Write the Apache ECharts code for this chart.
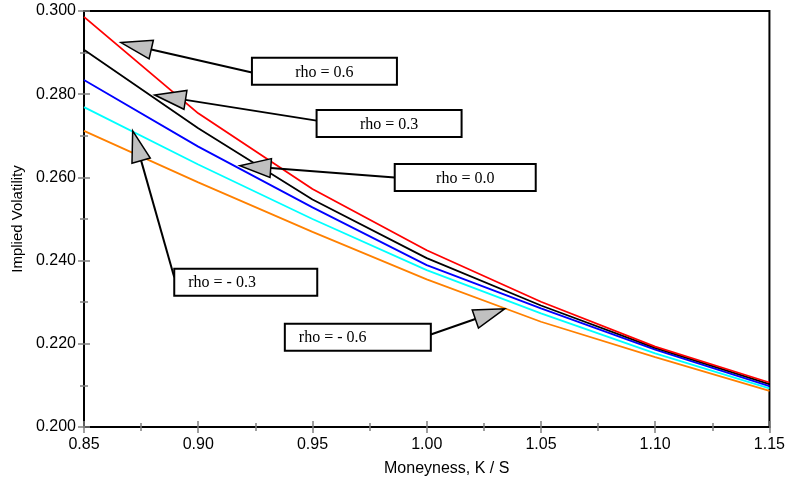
<!DOCTYPE html>
<html>
<head>
<meta charset="utf-8">
<script src="https://cdn.jsdelivr.net/npm/echarts@6/dist/echarts.min.js"></script>
<style>
html,body{margin:0;padding:0;background:#fff;}
#chart{width:788px;height:486px;}
</style>
</head>
<body>
<div id="chart"></div>
<script>
// ---- data ----
const moneyness = [0.85, 0.90, 0.95, 1.00, 1.05, 1.10, 1.15];
const rhoPos06 = [0.2986, 0.2754, 0.2572, 0.2425, 0.2301, 0.2193, 0.2107];
const rhoPos03 = [0.2907, 0.2718, 0.2547, 0.2406, 0.2292, 0.2190, 0.2103];
const rhoZero  = [0.2834, 0.2674, 0.2528, 0.2389, 0.2285, 0.2186, 0.2098];
const rhoNeg03 = [0.2769, 0.2631, 0.2500, 0.2377, 0.2273, 0.2177, 0.2093];
const rhoNeg06 = [0.2712, 0.2588, 0.2469, 0.2355, 0.2253, 0.2168, 0.2087];
const seriesLabels = ['rho = - 0.6', 'rho = - 0.3', 'rho = 0.0', 'rho = 0.3', 'rho = 0.6'];
const xTickMin = 0.85, xTickMax = 1.15, xTickStep = 0.05;
const yTickMin = 0.200, yTickMax = 0.300, yTickStep = 0.020;

// ---- styling ----
const seriesValues = [rhoNeg06, rhoNeg03, rhoZero, rhoPos03, rhoPos06];
const seriesColors = ['#ff8000', '#00ffff', '#0000ff', '#000000', '#ff0000'];

// annotation boxes: box top-left & arrow tip given in data coordinates
const annotations = [
  {text: 'rho = 0.6',   box: [0.9235, 0.28875], tip: [0.8662, 0.2924], side: 'left',  dy: 14.7, w: 145, align: 'center'},
  {text: 'rho = 0.3',   box: [0.9518, 0.27622], tip: [0.8810, 0.2798], side: 'left',  dy: 10.7, w: 145, align: 'center'},
  {text: 'rho = 0.0',   box: [0.9860, 0.26320], tip: [0.9182, 0.2628], side: 'left',  dy: 13.3, w: 141, align: 'center'},
  {text: 'rho = - 0.3', box: [0.8895, 0.23807], tip: [0.8713, 0.2712], side: 'left',  dy: 8.7,  w: 143, align: 'left'},
  {text: 'rho = - 0.6', box: [0.9379, 0.22482], tip: [1.0341, 0.2284], side: 'right', dy: 10.7, w: 146, align: 'left'}
];

const chart = echarts.init(document.getElementById('chart'), null, {renderer: 'canvas'});
const labelFont = {fontFamily: 'Liberation Sans, Arial, sans-serif', fontSize: 16, color: '#000'};
const tickGray = '#808080';

function makeX(outer) {
  return {
    type: 'value', position: 'bottom', min: xTickMin, max: xTickMax, interval: xTickStep,
    axisLine: {show: outer, onZero: false, lineStyle: {color: '#000', width: 2}},
    axisTick: {show: true, inside: !outer, length: 6, lineStyle: {color: tickGray, width: 1.5}},
    minorTick: {show: true, splitNumber: 2, length: 4, lineStyle: {color: tickGray, width: 1.5}},
    axisLabel: Object.assign({show: outer, margin: 10, formatter: v => v.toFixed(2)}, labelFont),
    splitLine: {show: false},
    name: outer ? 'Moneyness, K / S' : '',
    nameLocation: 'middle', nameGap: 34,
    nameTextStyle: Object.assign({padding: [0, 0, 0, 40]}, labelFont)
  };
}
function makeY(outer) {
  return {
    type: 'value', position: 'left', min: yTickMin, max: yTickMax, interval: yTickStep,
    axisLine: {show: outer, onZero: false, lineStyle: {color: '#000', width: 2}},
    axisTick: {show: true, inside: !outer, length: 6, lineStyle: {color: tickGray, width: 1.5}},
    minorTick: {show: true, splitNumber: 2, length: 4, lineStyle: {color: tickGray, width: 1.5}},
    axisLabel: Object.assign({show: outer, margin: 8, formatter: v => v.toFixed(3)}, labelFont),
    splitLine: {show: false},
    name: outer ? 'Implied Volatility' : '',
    nameLocation: 'middle', nameGap: 58,
    nameTextStyle: Object.assign({}, labelFont, {fontSize: 15})
  };
}

chart.setOption({
  animation: false,
  backgroundColor: '#fff',
  grid: {left: 84, right: 18, top: 11, bottom: 59, show: true, borderColor: '#000', borderWidth: 2, backgroundColor: 'transparent'},
  xAxis: [makeX(true), makeX(false)],
  yAxis: [makeY(true), makeY(false)],
  series: seriesValues.map((vals, i) => ({
    name: seriesLabels[i],
    type: 'line',
    xAxisIndex: 0, yAxisIndex: 0,
    symbol: 'none',
    data: moneyness.map((m, j) => [m, vals[j]]),
    lineStyle: {color: seriesColors[i], width: 1.8},
    z: 3 + i
  }))
});

// annotation graphics positioned from data coordinates
const graphics = [];
const boxH = 27, headLen = 31, headHalf = 9.5;
annotations.forEach(a => {
  const b = chart.convertToPixel({xAxisIndex: 0, yAxisIndex: 0}, a.box);
  const p = chart.convertToPixel({xAxisIndex: 0, yAxisIndex: 0}, a.tip);
  const tail = [a.side === 'left' ? b[0] : b[0] + a.w, b[1] + a.dy];
  const dx = p[0] - tail[0], dyv = p[1] - tail[1];
  const len = Math.sqrt(dx * dx + dyv * dyv);
  const ux = dx / len, uy = dyv / len;
  const base = [p[0] - ux * headLen, p[1] - uy * headLen];
  const nx = -uy, ny = ux;
  graphics.push({
    type: 'line', z: 100,
    shape: {x1: tail[0], y1: tail[1], x2: base[0], y2: base[1]},
    style: {stroke: '#000', lineWidth: 2}
  });
  graphics.push({
    type: 'polygon', z: 101,
    shape: {points: [[p[0], p[1]], [base[0] + nx * headHalf, base[1] + ny * headHalf], [base[0] - nx * headHalf, base[1] - ny * headHalf]]},
    style: {fill: '#c0c0c0', stroke: '#000', lineWidth: 1.5, lineJoin: 'miter'}
  });
  graphics.push({
    type: 'rect', z: 102,
    shape: {x: b[0], y: b[1], width: a.w, height: boxH},
    style: {fill: '#fff', stroke: '#000', lineWidth: 2}
  });
  const tx = a.align === 'center' ? b[0] + a.w / 2 : b[0] + 14;
  graphics.push({
    type: 'text', z: 103,
    style: {
      text: a.text, x: tx, y: b[1] + boxH / 2 + 1,
      font: '16px "Liberation Serif", "Times New Roman", serif',
      fill: '#000',
      align: a.align, textAlign: a.align,
      verticalAlign: 'middle', textVerticalAlign: 'middle'
    }
  });
});
chart.setOption({graphic: graphics});
</script>
</body>
</html>
